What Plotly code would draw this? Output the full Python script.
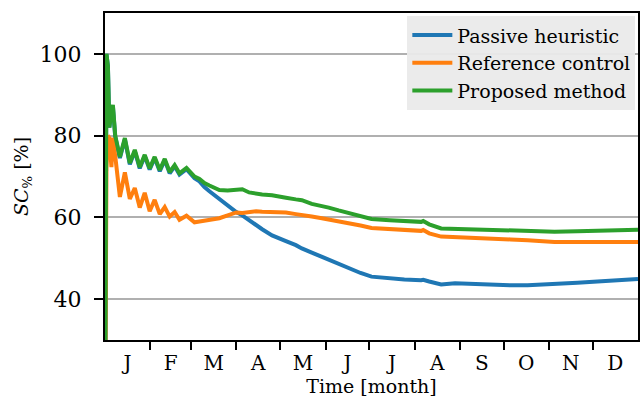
import plotly.graph_objects as go

# Day of year for the sampled points (shared by all three series)
days = [0, 1, 2, 3, 4.4, 5.4, 7, 10.2, 13.6, 17, 20.4, 23.8, 27.2, 30.6, 34, 37.5,
        40.9, 44.3, 47.7, 51, 55.8, 61.3, 64.7, 68.1, 71.5, 74.9, 78.3, 84, 89.9,
        94, 98.7, 103.5, 107.6, 114.4, 119.2, 123.9, 130.7, 134.8, 141.6, 148.5,
        153.2, 160, 166.8, 175, 182.5, 195, 205, 216.5, 217.9, 222, 230.2, 239.7,
        262.2, 277.8, 289.4, 307.8, 323.5, 340, 365]

passive = [0, 100, 97, 82, 86, 87.2, 79.7, 74.5, 79.1, 73.0, 76.2, 72.0, 75.0, 71.7, 74.5,
           71.3, 74.0, 70.8, 72.5, 70.5, 71.8, 69.6, 68.8, 67.4, 66.4, 65.4, 64.5,
           62.8, 61.3, 60.5, 59.3, 58.1, 57.1, 55.6, 54.8, 54.2, 53.2, 52.4, 51.4,
           50.4, 49.6, 48.6, 47.5, 46.4, 45.5, 45.0, 44.8, 44.6, 44.7, 44.3, 43.6,
           43.9, 43.5, 43.4, 43.4, 43.6, 44.0, 44.4, 44.9]

reference = [0, 72, 80, 79.4, 72.3, 79.5, 75, 65, 71, 64.5, 67.2, 62.4, 66, 61.5, 64.3,
             60.8, 62.5, 60.2, 61.3, 59.4, 60.4, 58.8, 59.0, 59.2, 59.3, 59.5, 59.8,
             60.5, 61.2, 61.1, 61.4, 61.5, 61.4, 61.3, 61.4, 61.2, 60.8, 60.5, 60.2,
             59.8, 59.5, 59.1, 58.6, 58.0, 57.4, 57.1, 56.9, 56.7, 56.9, 56.1, 55.3,
             55.2, 55.0, 54.6, 54.4, 54.0, 54.0, 54.0, 54.0]

proposed = [0, 100, 97, 82, 86, 87.5, 80, 74.8, 79.4, 73.3, 76.5, 72.3, 75.3, 72, 74.8,
            71.6, 74.3, 71.1, 72.8, 70.8, 72.1, 70.0, 69.4, 68.4, 67.8, 67.2, 66.7,
            66.6, 66.9, 66.9, 66.1, 65.8, 65.6, 65.4, 65.2, 64.8, 64.4, 64.2, 63.3,
            62.8, 62.4, 61.7, 61.0, 60.2, 59.6, 59.3, 59.1, 58.9, 59.1, 58.3, 57.3,
            57.2, 56.9, 56.7, 56.5, 56.5, 56.6, 56.8, 57.0]

series_names = ["Passive heuristic", "Reference control", "Proposed method"]
series_colors = ["#1f77b4", "#ff7f0e", "#2ca02c"]

month_labels = ["J", "F", "M", "A", "M", "J", "J", "A", "S", "O", "N", "D"]
month_lengths = [31, 28, 31, 30, 31, 30, 31, 31, 30, 31, 30, 31]

starts = [sum(month_lengths[:i]) for i in range(12)]
mids = [s + l / 2 for s, l in zip(starts, month_lengths)]
boundaries = starts[1:]

y_ticks = [40, 60, 80, 100]

FONT = "DejaVu Serif"

fig = go.Figure()
for name, vals, col in zip(series_names, [passive, reference, proposed], series_colors):
    fig.add_trace(go.Scatter(x=days, y=vals, mode="lines", name=name,
                             line=dict(color=col, width=4)))

fig.update_layout(
    width=641, height=401,
    margin=dict(l=105, r=1, t=13, b=61),
    plot_bgcolor="white", paper_bgcolor="white",
    font=dict(family=FONT, color="black", size=20),
    legend=dict(x=0.995, y=0.99, xanchor="right", yanchor="top",
                bgcolor="rgba(234,234,234,0.95)", borderwidth=0,
                font=dict(family=FONT, size=19), tracegroupgap=0,
                itemwidth=40),
    showlegend=True,
)

fig.update_xaxes(
    range=[0, 365], tickmode="array", tickvals=mids, ticktext=month_labels,
    ticks="", showgrid=False, zeroline=False,
    showline=True, linecolor="black", linewidth=2, mirror=True,
    tickfont=dict(family=FONT, size=20), ticklabelstandoff=4,
    title=dict(text="Time [month]", font=dict(family=FONT, size=19), standoff=0),
    minor=dict(tickmode="array", tickvals=boundaries, ticks="outside", ticklen=8,
               tickwidth=2, tickcolor="black", showgrid=False),
)

fig.update_yaxes(
    range=[30, 110], tickmode="array", tickvals=y_ticks,
    ticks="outside", ticklen=9, tickwidth=2, tickcolor="black",
    showgrid=True, gridcolor="#b0b0b0", gridwidth=1.5, zeroline=False,
    showline=True, linecolor="black", linewidth=2, mirror=True,
    layer="below traces",
    tickfont=dict(family=FONT, size=22), ticklabelstandoff=8,
    title=dict(text="<i>SC</i><sub>%</sub> [%]", font=dict(family=FONT, size=19),
               standoff=6),
)

fig.write_html("out.html")
